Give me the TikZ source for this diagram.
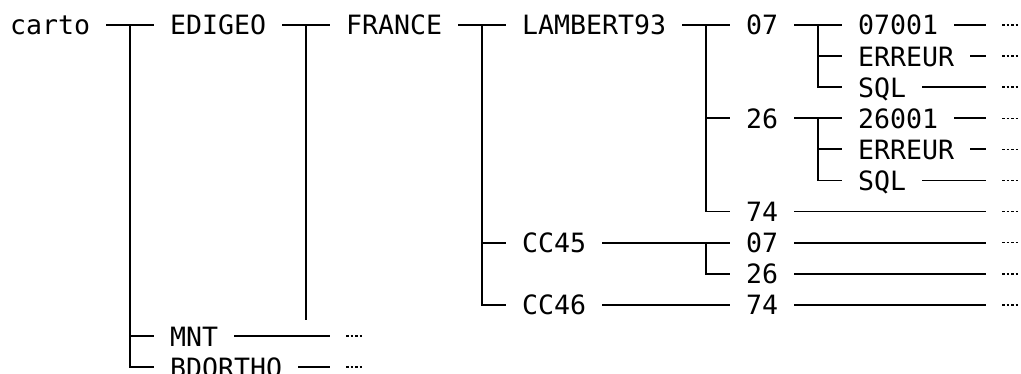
\documentclass[tikz,border=0pt]{standalone}
\usepackage{fontspec}
\newfontfamily\dvm{DejaVu Sans Mono}
\usetikzlibrary{calc}
\begin{document}
\begin{tikzpicture}[x=1pt,y=-1pt,
  lbl/.style={anchor=west, inner xsep=16pt, inner ysep=0pt, outer sep=0pt,
    text height=20pt, text depth=0pt, font=\dvm\fontsize{26.58}{31.1}\selectfont},
  leaf/.style={anchor=west, inner sep=0pt, outer xsep=16pt, outer ysep=0pt,
    minimum width=16pt, minimum height=1.5pt,
    path picture={\draw[line width=1.5pt, dash pattern=on 2.6pt off 1.8pt]
      ([xshift=0.3pt]path picture bounding box.west) -- (path picture bounding box.east);}},
  conn/.style={line width=1.8pt, line join=miter}]
\fill[white] (0,0) rectangle (1021,374);
\useasboundingbox (0,0) rectangle (1021,374);
% text nodes
\node[lbl] (carto)   at (-6,25)    {carto};
\node[lbl] (edigeo)  at (154,25)   {EDIGEO};
\node[lbl] (france)  at (330,25)   {FRANCE};
\node[lbl] (lambert) at (506,25)   {LAMBERT93};
\node[lbl] (l07)     at (730,25)   {07};
\node[lbl] (l07001)  at (842,25)   {07001};
\node[lbl] (l07err)  at (842,56.1) {ERREUR};
\node[lbl] (l07sql)  at (842,87.2) {SQL};
\node[lbl] (l26)     at (730,118.3) {26};
\node[lbl] (l26001)  at (842,118.3) {26001};
\node[lbl] (l26err)  at (842,149.4) {ERREUR};
\node[lbl] (l26sql)  at (842,180.5) {SQL};
\node[lbl] (l74)     at (730,211.6) {74};
\node[lbl] (cc45)    at (506,242.7) {CC45};
\node[lbl] (c07)     at (730,242.7) {07};
\node[lbl] (c26)     at (730,273.8) {26};
\node[lbl] (cc46)    at (506,304.9) {CC46};
\node[lbl] (c74)     at (730,304.9) {74};
\node[lbl] (mnt)     at (154,336)   {MNT};
\node[lbl] (bdortho) at (154,367.1) {BDORTHO};
% elided leaves
\node[leaf] (d0) at (986,25) {};
\node[leaf] (d1) at (986,56.1) {};
\node[leaf] (d2) at (986,87.2) {};
\node[leaf] (d3) at (986,118.3) {};
\node[leaf] (d4) at (986,149.4) {};
\node[leaf] (d5) at (986,180.5) {};
\node[leaf] (d6) at (986,211.6) {};
\node[leaf] (d7) at (986,242.7) {};
\node[leaf] (d8) at (986,273.8) {};
\node[leaf] (d9) at (986,304.9) {};
\node[leaf] (dm) at (330,336) {};
\node[leaf] (db) at (330,367.1) {};
% connectors
\coordinate (v1) at ($(edigeo.west)+(-24,0)$);
\draw[conn] (carto.east) -- (edigeo.west);
\draw[conn] (v1) |- (mnt.west);
\draw[conn] (v1) |- (bdortho.west);
\draw[conn] (edigeo.east) -- (france.west);
\coordinate (v2) at ($(france.west)+(-24,0)$);
\coordinate (v2end) at ($(v2)+(0,295.5)$);
\draw[conn] (v2) -- (v2end);
\draw[conn] (france.east) -- (lambert.west);
\coordinate (v3) at ($(lambert.west)+(-24,0)$);
\draw[conn] (v3) |- (cc45.west);
\draw[conn] (v3) |- (cc46.west);
\draw[conn] (lambert.east) -- (l07.west);
\coordinate (v4) at ($(l07.west)+(-24,0)$);
\draw[conn] (v4) |- (l26.west);
\draw[conn] (v4) |- (l74.west);
\draw[conn] (l07.east) -- (l07001.west);
\coordinate (v5) at ($(l07001.west)+(-24,0)$);
\draw[conn] (v5) |- (l07err.west);
\draw[conn] (v5) |- (l07sql.west);
\draw[conn] (l26.east) -- (l26001.west);
\coordinate (v6) at ($(l26001.west)+(-24,0)$);
\draw[conn] (v6) |- (l26err.west);
\draw[conn] (v6) |- (l26sql.west);
\draw[conn] (cc45.east) -- (c07.west);
\coordinate (v7) at ($(c07.west)+(-24,0)$);
\draw[conn] (v7) |- (c26.west);
\draw[conn] (cc46.east) -- (c74.west);
% to leaves
\draw[conn] (l07001.east) -- (d0.west);
\draw[conn] (l07err.east) -- (d1.west);
\draw[conn] (l07sql.east) -- (d2.west);
\draw[conn] (l26001.east) -- (d3.west);
\draw[conn] (l26err.east) -- (d4.west);
\draw[conn] (l26sql.east) -- (d5.west);
\draw[conn] (l74.east) -- (d6.west);
\draw[conn] (c07.east) -- (d7.west);
\draw[conn] (c26.east) -- (d8.west);
\draw[conn] (c74.east) -- (d9.west);
\draw[conn] (mnt.east) -- (dm.west);
\draw[conn] (bdortho.east) -- (db.west);
\end{tikzpicture}
\end{document}
